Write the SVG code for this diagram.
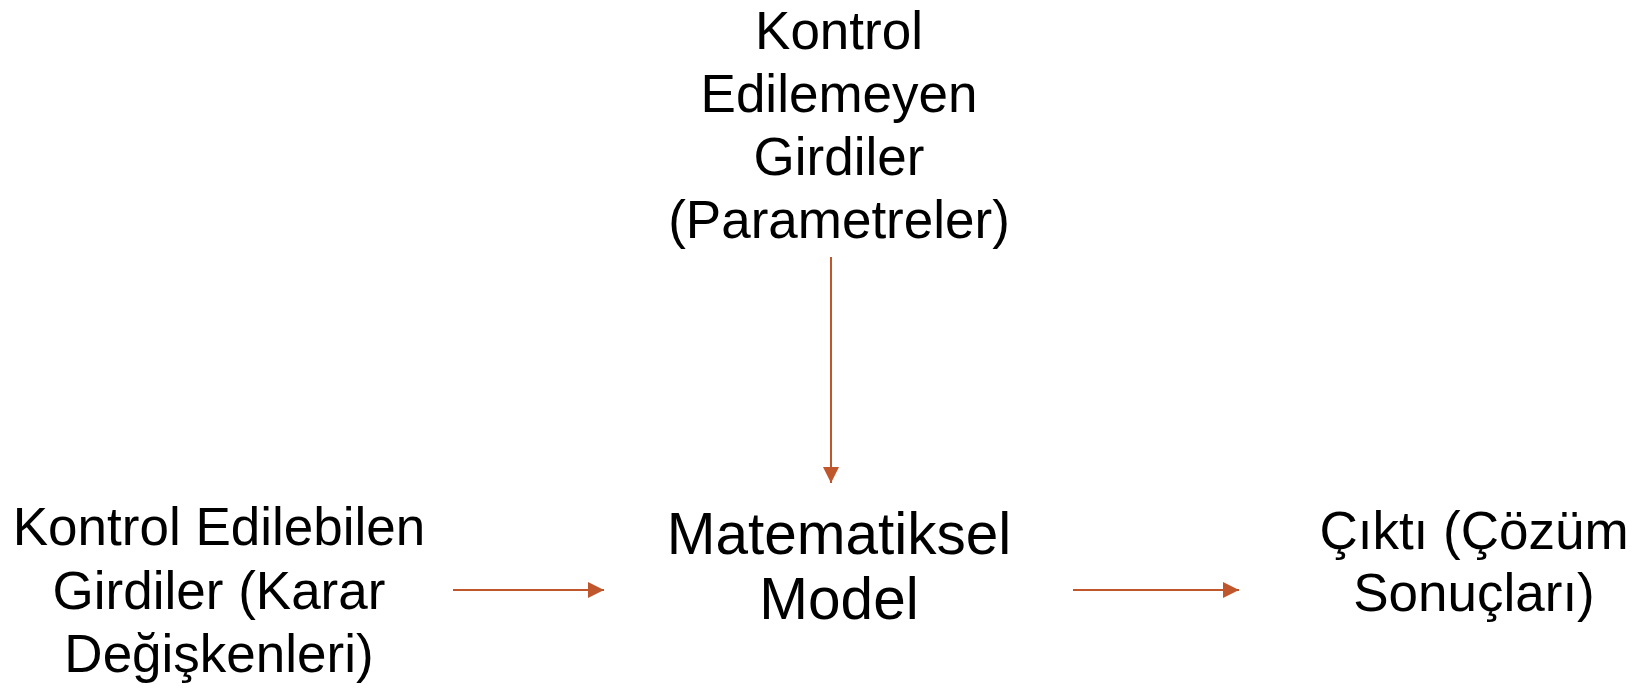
<svg xmlns="http://www.w3.org/2000/svg" width="1642" height="688" viewBox="0 0 1642 688">
<style>
text{font-family:"Liberation Sans",Arial,sans-serif;fill:#000;text-anchor:middle}
.t{font-size:53px}
.c{font-size:58.5px}
.conn line{stroke:#C0562B;stroke-width:2}
</style>
<defs>
<marker id="ah" viewBox="0 0 10 10" refX="10" refY="5" markerWidth="8" markerHeight="8" orient="auto" markerUnits="strokeWidth">
<path d="M0,0 L10,5 L0,10 z" fill="#C0562B"/>
</marker>
</defs>
<rect width="1642" height="688" fill="#fff"/>
<g id="top-node">
<text class="t" x="839" y="49">Kontrol</text>
<text class="t" x="839" y="112">Edilemeyen</text>
<text class="t" x="839" y="175">Girdiler</text>
<text class="t" x="839" y="238">(Parametreler)</text>
</g>
<g id="left-node">
<text class="t" x="219" y="545">Kontrol Edilebilen</text>
<text class="t" x="219" y="609">Girdiler (Karar</text>
<text class="t" x="219" y="672">Değişkenleri)</text>
</g>
<g id="center-node">
<text class="c" x="839" y="554">Matematiksel</text>
<text class="c" x="839" y="619">Model</text>
</g>
<g id="right-node">
<text class="t" x="1474" y="549">Çıktı (Çözüm</text>
<text class="t" x="1474" y="611">Sonuçları)</text>
</g>
<g class="conn" id="connectors">
<line x1="453" y1="590" x2="604" y2="590" marker-end="url(#ah)"/>
<line x1="831" y1="257" x2="831" y2="483" marker-end="url(#ah)"/>
<line x1="1073" y1="590" x2="1239" y2="590" marker-end="url(#ah)"/>
</g>
</svg>
